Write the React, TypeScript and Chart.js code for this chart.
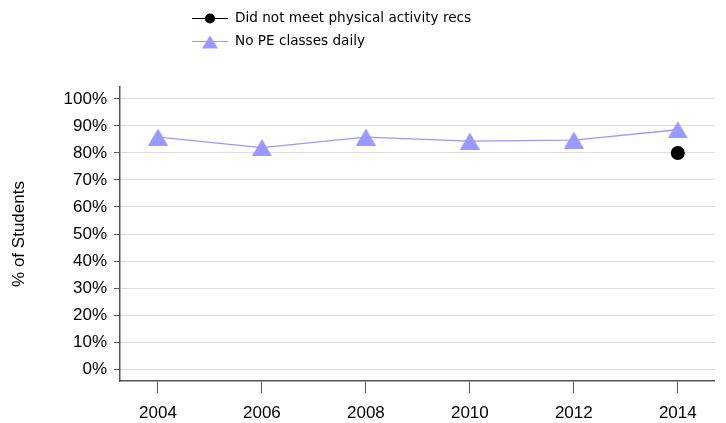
import React, { useEffect, useRef } from "react";
import Chart from "chart.js/auto";

const years = [2004, 2006, 2008, 2010, 2012, 2014];
const noPEDaily = [85.9, 82.0, 85.9, 84.4, 84.8, 88.6];
const didNotMeet = [null, null, null, null, null, 80.0];
const yTicks = [0, 10, 20, 30, 40, 50, 60, 70, 80, 90, 100];
const seriesNames = ["Did not meet physical activity recs", "No PE classes daily"];

const LAV = "rgb(153,153,255)";
const FONT = "'Liberation Sans', Arial, sans-serif";

function makeTriangle(w: number, h: number, color: string) {
  const c = document.createElement("canvas");
  c.width = w;
  c.height = h;
  const ctx = c.getContext("2d")!;
  ctx.fillStyle = color;
  ctx.beginPath();
  ctx.moveTo(0, h);
  ctx.lineTo(w / 2, 0);
  ctx.lineTo(w, h);
  ctx.closePath();
  ctx.fill();
  return c;
}

const legendPlugin = {
  id: "customLegend",
  afterDraw(chart: any) {
    const ctx = chart.ctx;
    ctx.save();
    const rows = [
      { y: 18.5, color: "#000", marker: "circle" },
      { y: 41.5, color: LAV, marker: "triangle" },
    ];
    rows.forEach((r, i) => {
      ctx.strokeStyle = r.color;
      ctx.lineWidth = 1;
      ctx.beginPath();
      ctx.moveTo(192, r.y);
      ctx.lineTo(228, r.y);
      ctx.stroke();
      ctx.fillStyle = r.color;
      if (r.marker === "circle") {
        ctx.beginPath();
        ctx.arc(210, r.y, 5, 0, Math.PI * 2);
        ctx.fill();
      } else {
        ctx.beginPath();
        ctx.moveTo(202, r.y + 7);
        ctx.lineTo(210, r.y - 6);
        ctx.lineTo(218, r.y + 7);
        ctx.closePath();
        ctx.fill();
      }
      ctx.fillStyle = "#000";
      ctx.font = "13.6px 'DejaVu Sans', Verdana, sans-serif";
      ctx.textBaseline = "middle";
      ctx.textAlign = "left";
      ctx.fillText(seriesNames[i], 235, r.y);
    });
    ctx.restore();
  },
};

export default function App() {
  const ref = useRef<HTMLCanvasElement>(null);
  useEffect(() => {
    document.body.style.margin = "0";
    const tri = makeTriangle(20, 17, LAV);
    const chart = new Chart(ref.current!, {
      type: "line",
      data: {
        datasets: [
          {
            label: seriesNames[0],
            data: years.map((x, i) => ({ x, y: didNotMeet[i] })),
            borderColor: "#000",
            backgroundColor: "#000",
            borderWidth: 1,
            pointStyle: "circle",
            pointRadius: 7,
            pointBorderWidth: 0,
            showLine: true,
          },
          {
            label: seriesNames[1],
            data: years.map((x, i) => ({ x, y: noPEDaily[i] })),
            borderColor: LAV,
            backgroundColor: LAV,
            borderWidth: 1.3,
            pointStyle: tri as any,
            pointRadius: 10,
          },
        ],
      },
      options: {
        responsive: false,
        animation: false,
        layout: { padding: { left: 0, right: 8, top: 87, bottom: 0 } },
        plugins: { legend: { display: false }, tooltip: { enabled: false } },
        scales: {
          x: {
            type: "linear",
            min: 2003.27,
            max: 2014.71,
            afterBuildTicks: (s: any) => {
              s.ticks = years.map((v) => ({ value: v }));
            },
            afterFit: (s: any) => {
              s.height = 42;
            },
            grid: {
              drawOnChartArea: false,
              drawTicks: true,
              tickLength: 12,
              tickColor: "#555",
            },
            border: { color: "#555", width: 1.5 },
            ticks: {
              color: "#000",
              font: { family: FONT, size: 17 },
              padding: 10,
              maxRotation: 0,
              callback: (v: any) => String(v),
            },
          },
          y: {
            type: "linear",
            min: -4.44,
            max: 104.44,
            afterBuildTicks: (s: any) => {
              s.ticks = yTicks.map((v) => ({ value: v }));
            },
            afterFit: (s: any) => {
              s.width = 120;
            },
            grid: {
              color: "#ddd",
              lineWidth: 1,
              drawTicks: true,
              tickLength: 6,
              tickColor: "#555",
            },
            border: { color: "#555", width: 1.5 },
            ticks: {
              color: "#000",
              font: { family: FONT, size: 17 },
              padding: 7,
              callback: (v: any) => v + "%",
            },
            title: {
              display: true,
              text: "% of Students",
              color: "#000",
              font: { family: FONT, size: 17 },
              padding: { top: 9, bottom: 0 },
            },
          },
        },
      },
      plugins: [legendPlugin],
    });
    return () => chart.destroy();
  }, []);
  return (
    <div style={{ position: "fixed", left: 0, top: 0, width: 726, height: 423 }}>
      <canvas ref={ref} width={726} height={423} />
    </div>
  );
}
